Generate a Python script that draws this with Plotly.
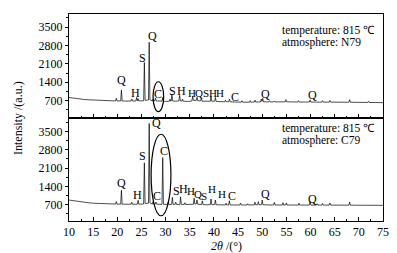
import plotly.graph_objects as go
from plotly.subplots import make_subplots

# ---------------- data ----------------
two_theta_n79 = [10, 11, 12, 13, 14, 15, 16, 17, 18, 19,
                 19.65, 19.8, 19.95, 20.7, 20.85, 21.0,
                 22, 22.85, 23.0, 23.15, 23.85, 24.0, 24.15, 24.3, 24.45,
                 25.0, 25.45, 25.6, 25.75, 26.45, 26.6, 26.75,
                 27.25, 27.4, 27.55, 27.75, 27.9, 28.05, 28.6, 29.25, 29.4, 29.55,
                 30.2, 30.75, 30.9, 31.05, 31.15, 31.3, 31.45,
                 32.0, 32.75, 32.9, 33.05, 33.35, 33.5, 33.65,
                 34.5, 35.45, 35.6, 35.75, 36.35, 36.5, 36.65,
                 37.25, 37.4, 37.55, 38.3, 39.25, 39.4, 39.55,
                 40.15, 40.3, 40.45, 41.3, 42.25, 42.4, 42.55,
                 43.05, 43.2, 43.35, 44.5, 45.65, 45.8, 45.95,
                 47.35, 47.5, 47.65, 48.35, 48.5, 48.65,
                 49.65, 49.8, 49.95, 50.1, 50.25,
                 51.35, 51.5, 51.65, 52.35, 52.5, 52.65,
                 53.7, 54.75, 54.9, 55.05, 56.2,
                 57.35, 57.5, 57.65, 58.8, 59.75, 59.9, 60.05,
                 61.2, 62.35, 62.5, 62.65, 63.85, 64.0, 64.15,
                 66.0, 67.95, 68.1, 68.25, 70.0, 71.85, 72.0, 72.15, 73.5, 75]
intensity_n79 = [820, 790, 765, 748, 735, 722, 712, 704, 698, 694,
                 692, 790, 690, 688, 1100, 688,
                 684, 688, 760, 686, 690, 820, 692, 780, 690,
                 690, 695, 2150, 715, 725, 2920, 735,
                 690, 760, 690, 690, 800, 690,
                 680, 682, 820, 680,
                 672, 680, 760, 680, 690, 950, 690,
                 680, 690, 900, 690, 680, 760, 680,
                 670, 690, 880, 710, 712, 830, 700,
                 690, 800, 680, 670, 680, 860, 680,
                 680, 820, 670, 662, 656, 720, 656,
                 660, 760, 656, 642, 642, 700, 642,
                 642, 700, 642, 648, 720, 648,
                 652, 760, 672, 790, 656,
                 652, 700, 652, 652, 690, 652,
                 652, 656, 740, 656, 652,
                 648, 700, 648, 648, 648, 730, 648,
                 644, 644, 700, 644, 644, 710, 644,
                 640, 640, 740, 640, 636, 632, 680, 632, 628, 624]

two_theta_c79 = [10, 11, 12, 13, 14, 15, 16, 17, 18, 19,
                 19.65, 19.8, 19.95, 20.7, 20.85, 21.0,
                 22, 22.85, 23.0, 23.15, 24.15, 24.3, 24.45,
                 25.0, 25.45, 25.6, 25.75, 26.45, 26.6, 26.75,
                 27.25, 27.4, 27.55, 27.85, 28.0, 28.15, 28.6, 29.25, 29.4, 29.55,
                 30.35, 30.5, 30.65, 31.25, 31.4, 31.55, 31.95, 32.1, 32.25,
                 32.95, 33.1, 33.25, 33.85, 34.0, 34.15,
                 35.0, 35.75, 35.9, 36.05, 36.35, 36.5, 36.65,
                 37.45, 37.6, 37.75, 38.4, 39.25, 39.4, 39.55,
                 40.15, 40.3, 40.45, 41.4, 42.35, 42.5, 42.65,
                 43.05, 43.2, 43.35, 44.4, 45.35, 45.5, 45.65,
                 46.85, 47.0, 47.15, 48.35, 48.5, 48.65, 49.05, 49.2, 49.35,
                 49.85, 50.0, 50.15, 51.3, 52.35, 52.5, 52.65,
                 53.5, 54.15, 54.3, 54.45, 54.85, 55.0, 55.15, 56.5,
                 57.45, 57.6, 57.75, 58.9, 59.75, 59.9, 60.05,
                 61.25, 61.4, 61.55, 62.35, 62.5, 62.65, 63.85, 64.0, 64.15,
                 66.0, 67.95, 68.1, 68.25, 69.5, 70.85, 71.0, 71.15,
                 72.85, 73.0, 73.15, 75]
intensity_c79 = [880, 848, 818, 795, 776, 760, 748, 738, 732, 728,
                 726, 820, 724, 722, 1250, 722,
                 718, 720, 800, 718, 722, 870, 722,
                 724, 730, 2300, 750, 760, 3800, 770,
                 725, 820, 722, 722, 800, 720, 716, 716, 2500, 716,
                 712, 800, 712, 715, 980, 715, 712, 800, 712,
                 715, 1000, 715, 710, 780, 710,
                 705, 720, 950, 730, 730, 880, 720,
                 712, 850, 705, 700, 705, 920, 705,
                 705, 880, 700, 695, 692, 760, 692,
                 695, 850, 692, 690, 690, 760, 690,
                 690, 740, 690, 695, 800, 695, 700, 820, 700,
                 705, 880, 700, 692, 692, 790, 692,
                 690, 690, 780, 690, 690, 770, 690, 688,
                 688, 760, 688, 688, 690, 830, 690,
                 686, 740, 686, 686, 750, 686, 686, 770, 686,
                 684, 684, 800, 684, 682, 680, 700, 680,
                 680, 700, 680, 678]

y_tick_vals = [700, 1400, 2100, 2800, 3500]
x_tick_vals = [10, 15, 20, 25, 30, 35, 40, 45, 50, 55, 60, 65, 70, 75]

# phase labels: (2theta, intensity, text)
labels_n79_x = [20.9, 23.8, 25.3, 27.2, 28.4, 31.5, 33.3, 35.5, 36.9, 38.3, 39.8, 41.3, 44.3, 50.6, 60.4]
labels_n79_y = [1495, 1000, 2330, 3170, 940, 1080, 1080, 1000, 1000, 1000, 1000, 1000, 830, 965, 915]
labels_n79_t = ["Q", "H", "S", "Q", "C", "S", "H", "H", "Q", "S", "H", "H", "C", "Q", "Q"]

labels_c79_x = [20.97, 24.1, 25.3, 28.1, 29.7, 28.2, 32.2, 33.6, 35.3, 36.7, 37.9, 39.5, 41.6, 43.7, 50.6, 60.4]
labels_c79_y = [1517, 1057, 2568, 3807, 2760, 1033, 1225, 1287, 1225, 1095, 1033, 1287, 1095, 1033, 1095, 930]
labels_c79_t = ["Q", "H", "S", "Q", "C", "C", "S", "H", "H", "Q", "S", "H", "H", "C", "Q", "Q"]

# ellipses marking calcite peak: x0, x1, y0, y1 (data units)
ellipse_n79 = [27.4, 29.6, 280, 1420]
ellipse_c79 = [27.0, 31.1, 280, 3390]

# ---------------- figure ----------------
FONT = "Liberation Serif"
W, H = 397, 253
ML, MR, MT, MB = 61, 22, 6, 40

fig = make_subplots(rows=2, cols=1, shared_xaxes=True, vertical_spacing=0)

fig.add_trace(go.Scatter(x=two_theta_n79, y=intensity_n79, mode="lines",
                         line=dict(color="black", width=0.7), showlegend=False), row=1, col=1)
fig.add_trace(go.Scatter(x=two_theta_c79, y=intensity_c79, mode="lines",
                         line=dict(color="black", width=0.7), showlegend=False), row=2, col=1)

axis_common = dict(showline=True, linecolor="black", linewidth=1, mirror=True,
                   showgrid=False, zeroline=False)

for r in (1, 2):
    fig.update_xaxes(range=[10, 75], tickvals=x_tick_vals, ticks="inside", ticklen=4,
                     tickcolor="black",
                     minor=dict(dtick=2.5, tick0=10, ticks="inside", ticklen=2, tickcolor="black"),
                     tickfont=dict(family=FONT, size=12, color="black"),
                     row=r, col=1, **axis_common)
    fig.update_yaxes(tickvals=y_tick_vals, ticks="outside", ticklen=3, tickcolor="black",
                     minor=dict(dtick=350, tick0=0, ticks="outside", ticklen=2, tickcolor="black"),
                     tickfont=dict(family=FONT, size=12, color="black"),
                     row=r, col=1, **axis_common)

fig.update_xaxes(showticklabels=False, row=1, col=1)
fig.update_yaxes(range=[60, 3995], row=1, col=1)
fig.update_yaxes(range=[80, 4030], row=2, col=1)

annotations = []
for xs, ys, ts, xr, yr in [(labels_n79_x, labels_n79_y, labels_n79_t, "x", "y"),
                           (labels_c79_x, labels_c79_y, labels_c79_t, "x2", "y2")]:
    for xv, yv, tv in zip(xs, ys, ts):
        crowded = 34.5 < xv < 42.5
        annotations.append(dict(x=xv, y=yv, xref=xr, yref=yr, text=tv, showarrow=False,
                                font=dict(family=FONT, size=11 if crowded else 12, color="black"),
                                xanchor="center", yanchor="middle"))

plot_h = H - MT - MB
plot_w = W - ML - MR


def px(xp, yp):
    return (xp - ML) / plot_w, (H - MB - yp) / plot_h


for text, (xp, yp) in [("temperature: 815 ℃", (272, 22)), ("atmosphere: N79", (272, 34)),
                       ("temperature: 815 ℃", (272, 120)), ("atmosphere: C79", (272, 132))]:
    xx, yy = px(xp, yp)
    annotations.append(dict(x=xx, y=yy, xref="paper", yref="paper", text=text, showarrow=False,
                            xanchor="left", yanchor="middle",
                            font=dict(family=FONT, size=11.5, color="black")))

xx, yy = px(10, 110)
annotations.append(dict(x=xx, y=yy, xref="paper", yref="paper", text="Intensity /(a.u.)",
                        showarrow=False, textangle=-90, xanchor="center", yanchor="middle",
                        font=dict(family=FONT, size=12, color="black")))
xx, yy = px(218, 238)
annotations.append(dict(x=xx, y=yy, xref="paper", yref="paper", text="<i>2θ</i> /(°)",
                        showarrow=False, xanchor="center", yanchor="middle",
                        font=dict(family=FONT, size=12, color="black")))

shapes = []
for e, xr, yr in [(ellipse_n79, "x", "y"), (ellipse_c79, "x2", "y2")]:
    shapes.append(dict(type="circle", xref=xr, yref=yr, x0=e[0], x1=e[1], y0=e[2], y1=e[3],
                       line=dict(color="black", width=1.2)))

fig.update_layout(width=W, height=H, margin=dict(l=ML, r=MR, t=MT, b=MB),
                  paper_bgcolor="white", plot_bgcolor="white",
                  annotations=annotations, shapes=shapes,
                  font=dict(family=FONT, color="black"))

fig.write_html("out.html")
